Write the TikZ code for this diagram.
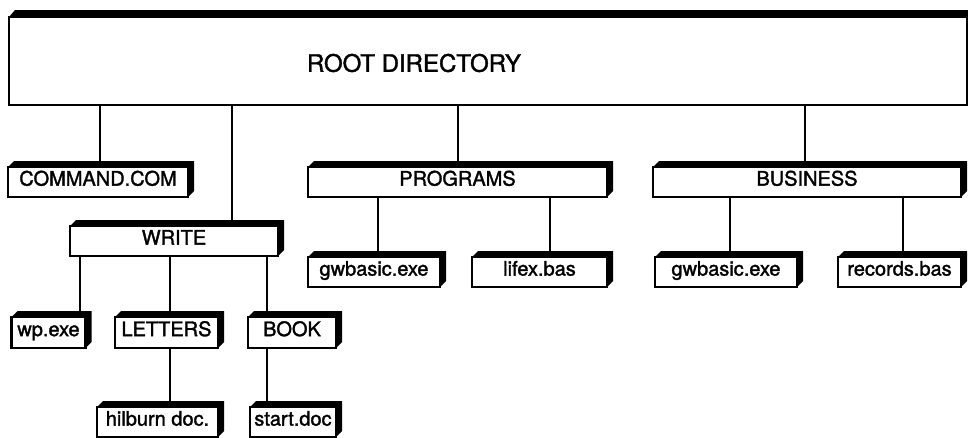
\documentclass[tikz,border=0pt]{standalone}
\usepackage{fontspec}
\setmainfont{TeX Gyre Heros}
\newfontfamily\heavyfont{TeX Gyre Heros}[FakeBold=1.6]
\pgfdeclarelayer{bg}
\pgfsetlayers{bg,main}
\newcommand\boxfaces[3]{%
  \fill (#1.north west) -- ++(#2,-#3) -- ([shift={(#2,-#3)}]#1.north east)
    -- ([shift={(#2,-#3)}]#1.south east) -- (#1.south east) -- (#1.north east) -- cycle;}
\begin{document}
\begin{tikzpicture}[x=1pt,y=-1pt,
  dbox/.style={draw, fill=white, line width=2.6pt, inner sep=0pt, outer sep=0pt,
    minimum height=30pt, text height=0.72em, text depth=0pt,
    font=\heavyfont\fontsize{20}{20}\selectfont},
  conn/.style={line width=1.9pt}]
\useasboundingbox (0,0) rectangle (968,437);
\clip (0,0) rectangle (968,437);

% root
\node[dbox, line width=2.2pt, minimum width=958pt, minimum height=88pt] (root) at (488,61) {};
\node[font=\heavyfont\fontsize{24}{24}\selectfont, inner sep=0pt] (roottext) at (414,63) {ROOT DIRECTORY};
\boxfaces{root}{6}{7}

% level 1
\node[dbox, minimum width=180pt] (cmd) at (98,182) {COMMAND.COM};
\node[dbox, minimum width=208pt] (write) at (174,241) {WRITE};
\node[dbox, minimum width=299pt] (prog) at (457.5,182) {PROGRAMS};
\node[dbox, minimum width=308pt] (bus) at (807,182) {BUSINESS};
\foreach \n in {cmd,write,prog,bus} {\boxfaces{\n}{6}{6}}

% level 2
\node[dbox, minimum width=132pt] (gw1) at (374,272) {gwbasic.exe};
\node[dbox, minimum width=135pt] (lifex) at (539.5,272) {lifex.bas};
\node[dbox, minimum width=142pt] (gw2) at (726,272) {gwbasic.exe};
\node[dbox, minimum width=123pt] (rec) at (899.5,272) {records.bas};
\node[dbox, minimum width=74pt, minimum height=31pt] (wp) at (48.5,332.5) {wp.exe};
\node[dbox, minimum width=103pt, minimum height=31pt] (let) at (166.5,332.5) {LETTERS};
\node[dbox, minimum width=88pt, minimum height=31pt] (book) at (292,332.5) {BOOK};
\foreach \n in {gw1,lifex,gw2,rec,wp,let,book} {\boxfaces{\n}{6}{6}}

% level 3
\node[dbox, minimum width=121pt] (hil) at (157.5,422) {hilburn doc.};
\node[dbox, minimum width=86pt] (start) at (293,422) {start.doc};
\foreach \n in {hil,start} {\boxfaces{\n}{6}{6}}

% connector x positions
\coordinate (xcmd) at (100,0);
\coordinate (xwrite) at (232,0);
\coordinate (xprog) at (458,0);
\coordinate (xbus) at (805,0);
\coordinate (xwp) at (80,0);
\coordinate (xlet) at (170,0);
\coordinate (xbook) at (267,0);
\coordinate (xgw1) at (378,0);
\coordinate (xlifex) at (550,0);
\coordinate (xgw2) at (730,0);
\coordinate (xrec) at (903,0);

\begin{pgfonlayer}{bg}
\draw[conn] (xcmd |- root.south) -- (xcmd |- cmd.north);
\draw[conn] (xwrite |- root.south) -- (xwrite |- write.north);
\draw[conn] (xprog |- root.south) -- (xprog |- prog.north);
\draw[conn] (xbus |- root.south) -- (xbus |- bus.north);
\draw[conn] (xwp |- write.south) -- (xwp |- wp.north);
\draw[conn] (xlet |- write.south) -- (xlet |- let.north);
\draw[conn] (xbook |- write.south) -- (xbook |- book.north);
\draw[conn] (xlet |- let.south) -- (xlet |- hil.north);
\draw[conn] (xbook |- book.south) -- (xbook |- start.north);
\draw[conn] (xgw1 |- prog.south) -- (xgw1 |- gw1.north);
\draw[conn] (xlifex |- prog.south) -- (xlifex |- lifex.north);
\draw[conn] (xgw2 |- bus.south) -- (xgw2 |- gw2.north);
\draw[conn] (xrec |- bus.south) -- (xrec |- rec.north);
\end{pgfonlayer}
\end{tikzpicture}
\end{document}
